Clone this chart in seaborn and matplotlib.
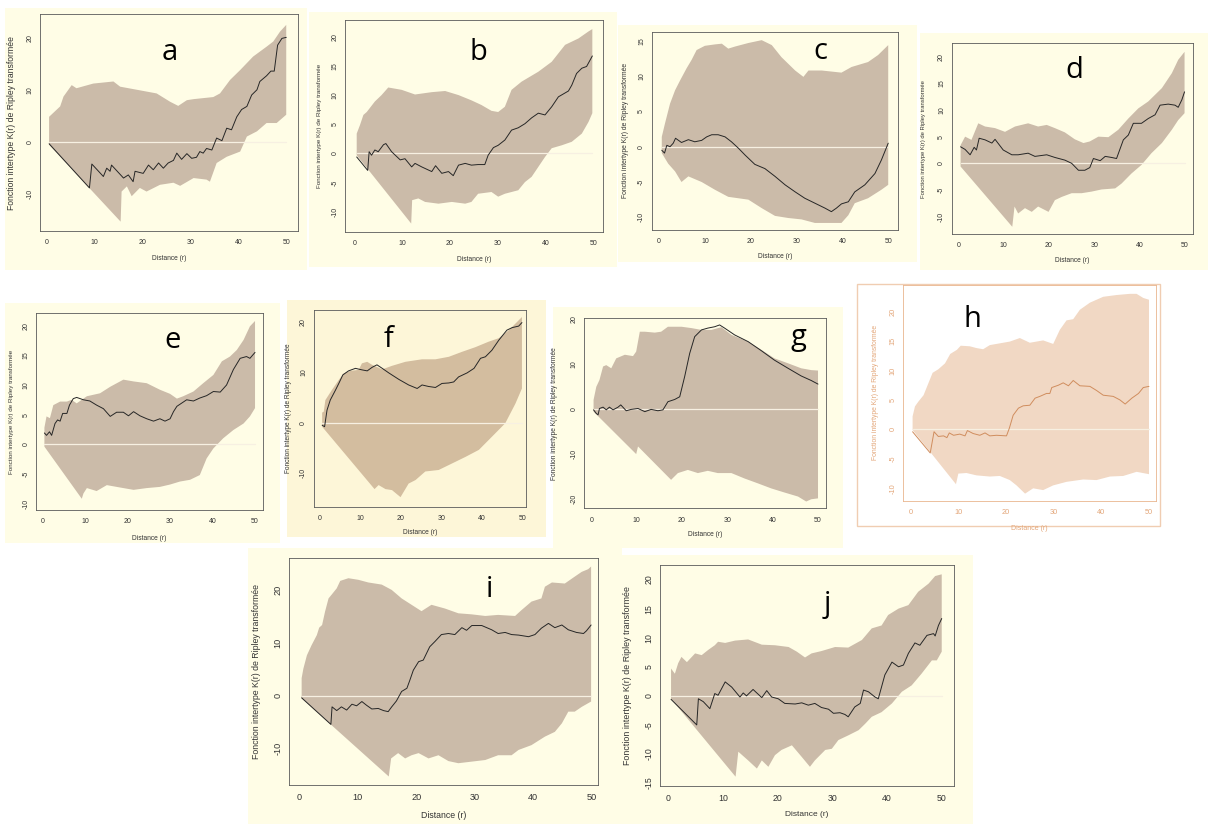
import matplotlib
matplotlib.use("Agg")
import matplotlib.pyplot as plt
import seaborn as sns
from matplotlib.patches import Rectangle

# ---------------- data ----------------
# panel a
a_line_x = [0.5, 8.9, 9.4, 11.8, 12.5, 13.2, 13.5, 16, 17, 18, 18.4, 20.1, 21.2, 22.2, 23.3, 24.3, 25.3, 26.4, 27.1, 28.1, 29.2, 30.2, 31.2, 31.9, 32.6, 33.3, 34.4, 35.4, 36.5, 37.5, 38.5, 39.6, 40.6, 41.7, 42.7, 43.8, 44.4, 45.8, 46.7, 47.4, 48.1, 49, 49.9]
a_line_y = [-0.3, -8.8, -4.2, -6.6, -5, -5.6, -4.4, -6.9, -6.3, -7.6, -5.6, -6, -4.4, -5.3, -4, -5, -4, -3.5, -2.1, -3.3, -2.2, -3.1, -2.9, -1.8, -2.1, -1.2, -1.5, 0.8, 0.3, 2.7, 2.4, 4.9, 6.3, 6.9, 9.1, 10.1, 11.7, 12.8, 13.7, 13.7, 18.7, 20, 20.2]
a_hi_x = [0.5, 2.8, 3.5, 5.2, 6.2, 9.7, 13.9, 15.3, 19.4, 22.9, 25.7, 27.4, 29.2, 30.6, 34.7, 36.1, 38.2, 40.3, 43, 45.8, 47.2, 48.6, 49.9]
a_hi_y = [4.9, 6.9, 8.8, 11, 10.4, 11.3, 11.7, 10.7, 10, 9.4, 7.8, 7, 8.1, 8.3, 8.7, 9.4, 12, 13.9, 16.5, 18.4, 19.4, 21.3, 22.6]
a_lo_x = [0.5, 15.4, 15.6, 16.7, 17.7, 19.4, 20.8, 23.6, 26.4, 27.8, 30.6, 33.3, 34, 35.4, 37.5, 40.3, 41.7, 43.8, 45.8, 47.9, 49.9]
a_lo_y = [-0.5, -15.3, -9.5, -8.5, -10.4, -8.8, -9.5, -8.2, -7.8, -8.4, -6.9, -7.2, -7.6, -4, -2.8, -1.8, 1.1, 2.1, 3.7, 3.7, 5.3]

# panel b
b_line_x = [0.5, 2.8, 3.1, 3.6, 4.3, 5, 6.1, 6.6, 7.8, 9.6, 10.6, 12, 12.7, 14.1, 16.2, 17, 18.3, 19.7, 20.7, 21.8, 23.2, 24.5, 25.9, 27.3, 28, 29.1, 30.1, 31.5, 32.9, 34.3, 35.7, 37.1, 38.5, 39.9, 41.3, 42.7, 44.8, 45.5, 46.5, 47.6, 48.6, 49.8]
b_line_y = [-0.6, -2.9, 0.3, -0.3, 0.6, 0.3, 1.5, 1.7, 0.3, -1.1, -0.9, -2.3, -1.7, -2.3, -3.1, -2.1, -3.4, -3.1, -3.8, -2, -1.7, -2, -1.9, -1.9, -0.3, 1, 1.4, 2.3, 4, 4.4, 5.1, 6.1, 6.9, 6.6, 8, 9.7, 10.7, 11.7, 13.7, 14.6, 14.9, 16.7]
b_hi_x = [0.5, 1.2, 1.9, 2.6, 4.3, 5.7, 7.1, 9.9, 12.7, 16.2, 19, 21.8, 24.5, 26.6, 28.7, 30.1, 31.5, 32.9, 35, 38.5, 41.3, 44.1, 46.9, 49, 49.8]
b_hi_y = [3.4, 4.9, 6.6, 7.1, 8.9, 10, 11.3, 10.9, 10.1, 10.5, 10.7, 10, 9.1, 8.3, 7.3, 7.1, 8, 10.9, 12.3, 14, 15.7, 18.6, 19.7, 20.9, 21.3]
b_lo_x = [0.5, 11.9, 12.1, 13.4, 14.8, 17.6, 20.4, 23.2, 24.5, 25.9, 28.7, 30.1, 31.5, 34.3, 35.7, 37.1, 38.5, 39.9, 41.3, 43.4, 45.5, 47.6, 49, 49.8]
b_lo_y = [-0.3, -12, -8, -7.7, -8.3, -8.6, -8.3, -8.6, -8.3, -6.9, -6.6, -7.4, -6.9, -6.3, -4.9, -4, -2.3, -0.6, 0.9, 1.4, 2, 3.4, 5.4, 6.9]

# panel c
c_line_x = [0.6, 1.2, 1.7, 2.4, 3.1, 3.6, 4.9, 6.4, 7.8, 9.3, 10.4, 11.5, 12.9, 14.4, 15.8, 17.3, 18.8, 20.9, 23.1, 25.3, 27.5, 29.7, 31.8, 34, 36.2, 37.6, 38.7, 39.8, 41.3, 42.7, 44.9, 47.1, 48.5, 50]
c_line_y = [-0.5, -0.9, 0.2, 0, 0.5, 1.2, 0.6, 1, 0.7, 0.9, 1.4, 1.7, 1.7, 1.4, 0.7, -0.2, -1.2, -2.5, -3.1, -4.2, -5.4, -6.4, -7.3, -8, -8.7, -9.2, -8.7, -8.1, -7.8, -6.4, -5.4, -3.8, -1.9, 0.5]
c_hi_x = [0.6, 1.3, 2.4, 3.5, 4.6, 6, 7.1, 8.2, 10, 12.2, 13.7, 15.1, 16.6, 19.5, 22.4, 24.6, 26.7, 29.7, 31.5, 32.6, 35.5, 39.8, 42, 45.6, 47.8, 50]
c_hi_y = [1.4, 3.3, 6.1, 8, 9.4, 11.1, 12.3, 13.7, 14.3, 14.5, 14.6, 13.9, 14.2, 14.7, 15.1, 14.4, 12.7, 10.8, 9.9, 10.8, 10.8, 10.5, 11.3, 12, 13, 14.4]
c_lo_x = [0.6, 2, 3.5, 4.9, 6.4, 9.3, 12.2, 15.1, 19.5, 22.4, 25.3, 28.2, 31.1, 34, 36.9, 39.8, 41.3, 42.7, 45.6, 48.5, 50]
c_lo_y = [-0.9, -2.4, -3.5, -5, -4.2, -5, -6.1, -7.1, -7.5, -8.7, -9.8, -10.1, -10.3, -10.8, -10.8, -10.8, -9.7, -8, -7.3, -6.1, -5.4]

# panel d
d_line_x = [0.5, 1.5, 2.6, 3.5, 4, 4.6, 5.9, 7.4, 8.1, 9.9, 11.8, 13.2, 15.4, 16.9, 19.5, 21.3, 23.5, 25, 26.5, 27.9, 29, 29.8, 31.3, 32.4, 33.8, 34.9, 36.4, 37.5, 38.6, 40.4, 41.9, 43.4, 44.5, 46.3, 47.8, 48.5, 49.3, 49.9]
d_line_y = [3.1, 2.6, 1.6, 3, 2.5, 4.7, 4.4, 3.8, 4.5, 2.5, 1.6, 1.6, 1.9, 1.3, 1.6, 1.1, 0.6, 0, -1.3, -1.3, -0.8, 0.9, 0.5, 1.3, 1.1, 0.9, 4.4, 5.3, 7.5, 7.5, 8.4, 9.1, 10.9, 11.1, 10.9, 10.5, 11.9, 13.4]
d_hi_x = [0.5, 1.5, 2.9, 4.4, 5.9, 8.1, 10.3, 12.5, 15.4, 17.6, 19.5, 21.3, 23.5, 25.7, 27.6, 29, 30.9, 33.1, 35.3, 37.5, 39.7, 41.9, 44.9, 47.1, 48.5, 49.9]
d_hi_y = [3.4, 5, 4.4, 7.5, 6.9, 6.6, 5.9, 6.9, 7.5, 6.9, 7.2, 6.6, 5.8, 4.5, 3.8, 4.1, 5, 4.9, 6.3, 8.4, 10.3, 11.6, 14.1, 16.9, 19.4, 20.9]
d_lo_x = [0.5, 11.9, 12.4, 13.2, 14.7, 16.2, 17.6, 19.9, 21.3, 22.8, 25, 27.2, 29.4, 31.6, 34.6, 36, 38.2, 40.4, 42.6, 44.9, 47.1, 48.5, 49.9]
d_lo_y = [-0.6, -11.9, -8.1, -9.4, -8.4, -9.1, -8.1, -9.1, -6.9, -6.3, -5.6, -5.6, -5.3, -4.9, -4.7, -3.8, -1.9, -0.3, 1.9, 3.8, 6.3, 8.1, 9.4]

# panel e
e_line_x = [0.4, 0.9, 1.6, 2.1, 2.9, 3.5, 4.1, 4.7, 5.7, 6.3, 7.2, 8, 9.6, 11.1, 12.7, 14.3, 15.9, 17.4, 19, 20.2, 21.4, 22.9, 24.5, 26.1, 27.6, 28.8, 30, 30.8, 31.6, 33.9, 35.5, 37, 38.6, 40.2, 41.8, 43.3, 44.9, 46.5, 48, 48.8, 50]
e_line_y = [1.9, 1.5, 2.1, 1.5, 3.5, 4.1, 3.9, 5.2, 5.2, 6.6, 7.7, 7.9, 7.5, 7.3, 6.6, 6, 4.7, 5.4, 5.4, 4.8, 5.5, 4.8, 4.3, 3.9, 4.3, 3.9, 4.3, 5.5, 6.4, 7.5, 7.3, 7.8, 8.2, 8.9, 8.8, 10, 12.6, 14.5, 14.8, 14.5, 15.5]
e_hi_x = [0.4, 0.9, 1.7, 2.5, 4.1, 5.7, 6.8, 8, 10.4, 13.5, 15.9, 19, 21.4, 24.5, 27.6, 30, 31.6, 33.1, 35.5, 37.8, 40.2, 42.2, 44.1, 45.7, 47.3, 48.8, 50]
e_hi_y = [2.8, 4.7, 4.4, 6.6, 7.2, 7.2, 7.5, 6.9, 8.1, 8.6, 9.7, 10.9, 10.6, 10.3, 9.2, 8.5, 7.7, 8.1, 8.9, 10.3, 11.7, 14, 14.8, 15.9, 17.6, 19.9, 20.8]
e_lo_x = [0.4, 9.2, 9.6, 10.4, 12.7, 15.1, 18.2, 21.4, 24.5, 27.6, 30, 32.3, 34.7, 37, 38.6, 40.2, 42.5, 44.9, 47.3, 48.8, 50]
e_lo_y = [-0.4, -9.2, -8.3, -7.4, -7.9, -6.9, -7.3, -7.7, -7.4, -7.2, -6.8, -6.3, -6, -5.2, -2.4, -0.7, 1, 2.4, 3.5, 4.7, 6.1]

# panel f
f_line_x = [0.6, 1.2, 1.8, 2.6, 3.9, 4.7, 5.7, 7.1, 8.8, 10.4, 11.7, 12.9, 14.1, 15.4, 17, 19.5, 21.9, 24, 25.2, 26.8, 28.5, 30.1, 31.8, 33, 34.2, 36.3, 38, 39.6, 40.8, 42.4, 44.1, 46.1, 47.4, 49, 49.8]
f_line_y = [-0.5, -0.8, 2.5, 4.5, 6.5, 7.8, 9.5, 10.3, 10.8, 10.5, 10.3, 11, 11.5, 10.8, 9.9, 8.6, 7.5, 6.8, 7.5, 7.2, 7, 7.8, 7.9, 8.1, 9.1, 9.9, 10.8, 12.8, 13.1, 14.4, 16.4, 18.4, 18.9, 19.2, 19.9]
f_hi_x = [0.6, 1, 1.4, 3, 4.7, 5.9, 7.6, 9.6, 10.4, 11.7, 12.9, 15.4, 17.8, 21.1, 25.2, 28.5, 31.8, 35.1, 38.3, 41.6, 44.1, 46.6, 48.2, 49.8]
f_hi_y = [2, 2.2, 4.5, 6.5, 8.5, 9.8, 10.3, 10.5, 11.8, 12.1, 11.5, 10.6, 11.3, 12.1, 12.6, 12.6, 13.1, 14.1, 15, 16.1, 16.8, 18.4, 19.7, 21]
f_lo_x = [0.6, 13.5, 14.5, 16.2, 17.8, 19.9, 21.9, 23.6, 26, 29.3, 32.6, 35.9, 39.2, 42.4, 45.7, 48.2, 49.8]
f_lo_y = [-0.8, -13.2, -12.4, -13.2, -13.4, -14.8, -12.1, -11.4, -9.7, -9.4, -8.1, -6.8, -5.4, -2.8, -0.1, 3.8, 6.8]

# panel g
g_line_x = [0.5, 1.1, 1.5, 1.8, 2.6, 3.3, 4, 4.8, 5.9, 6.5, 7.7, 8.8, 10.3, 11.8, 13.2, 14.7, 15.8, 16.9, 18.4, 19.5, 20.6, 21.7, 22.8, 24.3, 25.7, 27.2, 28.3, 29.4, 31.6, 34.6, 37.5, 40.4, 43.4, 46.3, 48.5, 50]
g_line_y = [-0.2, -1, -1.3, 0.1, 0.4, -0.2, 0.4, -0.2, 0.4, 0.9, -0.4, -0.1, 0.1, -0.6, -0.1, -0.4, -0.2, 1.6, 2.1, 2.7, 7.2, 12.3, 16, 17.5, 17.9, 18.2, 18.6, 17.9, 16.4, 14.9, 12.9, 10.8, 9, 7.3, 6.3, 5.5]
g_hi_x = [0.5, 1.1, 1.8, 2.6, 3.3, 4.4, 5.5, 7.4, 9.2, 9.9, 10.7, 11.8, 14, 15.4, 16.9, 19.9, 22.1, 24.3, 26.5, 28.7, 30.9, 34.6, 37.5, 40.4, 43.4, 46.3, 48.5, 50]
g_hi_y = [2, 4.9, 6.4, 9.4, 9.7, 9, 11.2, 12, 11.7, 12.7, 17.1, 17.1, 16.9, 17.1, 18.2, 18.2, 17.9, 17.5, 17.5, 18.1, 16.4, 14.9, 13.1, 11.2, 10.1, 9, 8.6, 8.5]
g_lo_x = [0.5, 9.9, 10.3, 17.6, 19.1, 21.3, 23.5, 25.7, 27.9, 30.9, 33.8, 36.8, 39.7, 42.6, 45.6, 47.4, 48.5, 50]
g_lo_y = [-0.6, -10, -8.3, -15.7, -14.2, -13.5, -14.2, -13.7, -14.2, -14.2, -15.4, -16.5, -17.6, -18.5, -19.4, -20.5, -20, -19.8]

# panel h
h_line_x = [0.4, 4.1, 4.9, 5.8, 6.9, 7.6, 8.1, 9, 10.3, 11.4, 11.9, 13.1, 14.5, 15.6, 16.6, 18, 20.1, 20.7, 21.5, 22.6, 23.6, 25, 26.1, 27.1, 28.5, 29.2, 29.6, 31, 32, 33.1, 34.1, 35.5, 37.6, 39, 40.4, 42.5, 43.9, 45, 46.4, 47.8, 48.8, 50]
h_line_y = [-0.4, -4, -0.4, -1.2, -1.1, -1.4, -0.6, -1, -0.8, -1.1, -0.2, -0.7, -1, -0.6, -1.1, -1, -1.1, 0.2, 2.4, 3.6, 4, 4.1, 5.3, 5.6, 6.1, 6.1, 7.1, 7.5, 7.9, 7.4, 8.3, 7.4, 7.3, 6.6, 5.8, 5.6, 5, 4.3, 5.3, 6.1, 7.1, 7.3]
h_hi_x = [0.4, 0.9, 1.6, 2.7, 3.7, 4.6, 5.8, 7.2, 8.3, 9.7, 10.5, 12.4, 13.8, 15.2, 16.6, 18.7, 20.8, 22.9, 25, 27.8, 29.9, 31.3, 32.7, 34.1, 35.5, 37.6, 40.4, 43.2, 46, 47.4, 48.8, 50]
h_hi_y = [2.2, 3.9, 4.7, 5.8, 7.8, 9.6, 10.2, 11.2, 12.8, 13.5, 14.2, 14.1, 13.8, 13.6, 14.3, 14.6, 14.9, 15.5, 14.7, 15.1, 14.5, 16.9, 18.5, 18.7, 20.3, 21.5, 22.5, 22.8, 23, 23, 22.3, 22]
h_lo_x = [0.4, 9.5, 10, 11.7, 13.8, 16.6, 18.7, 20.8, 22.2, 24, 25.7, 27.8, 29.9, 32.7, 36.2, 39, 41.8, 44.6, 47.4, 50]
h_lo_y = [-0.1, -9.3, -7.5, -7.4, -7.8, -8, -7.9, -8.6, -9.5, -10.9, -10, -10.3, -9.5, -8.9, -8.5, -8.6, -8, -7.9, -7.2, -7.6]

# panel i
i_line_x = [0.4, 5.4, 5.6, 6.4, 7.2, 8.1, 9, 9.8, 10.7, 11.5, 12.4, 13.5, 14.4, 15.2, 15.8, 16.6, 17.5, 18.4, 18.9, 19.5, 20.4, 21.2, 22.3, 23.2, 24.3, 25.5, 26.6, 27.8, 28.6, 29.5, 31.2, 32.9, 34, 35.2, 36.3, 37.5, 39.2, 40.3, 41.4, 42.6, 43.7, 44.9, 46, 47.4, 48.6, 49.1, 49.9]
i_line_y = [-0.4, -5.4, -2.1, -2.8, -2.1, -2.7, -1.6, -1.9, -1.1, -1.8, -2.5, -2.4, -2.8, -3, -2.1, -1, 0.8, 1.4, 2.9, 4.8, 6.4, 6.7, 9.2, 10.2, 11.5, 11.7, 11.5, 12.8, 12.3, 13.2, 13.2, 12.4, 11.7, 11.9, 11.5, 11.4, 11.1, 11.5, 12.7, 13.6, 12.8, 13.3, 12.4, 11.9, 11.7, 12.2, 13.3]
i_hi_x = [0.4, 0.7, 1.3, 2.1, 3, 3.4, 3.9, 4.4, 5, 5.6, 6.4, 7, 8.4, 10.1, 11.8, 14.1, 15.8, 17.5, 19.2, 20.9, 22.6, 24.9, 27.2, 29.5, 31.8, 34, 36.9, 38, 39.7, 41.4, 42, 43.2, 45.4, 47.1, 48.3, 49.4, 49.9]
i_hi_y = [3.3, 5.1, 7.6, 9.5, 11.4, 12.8, 13.3, 15.8, 18.3, 19.1, 20.2, 21.6, 22.1, 21.8, 21.3, 20.9, 19.9, 18.3, 17.1, 15.9, 17.1, 16.4, 15.5, 15.3, 15, 15.2, 15, 16.1, 17.7, 18.3, 20.5, 21.3, 21.1, 22.4, 23.3, 23.8, 24.3]
i_lo_x = [0.4, 15.3, 15.7, 16.9, 18.1, 19.2, 20.4, 22.1, 23.8, 25.5, 27.2, 29.5, 31.8, 34, 36.3, 37.5, 39.7, 42, 43.7, 44.9, 46, 47.1, 48.3, 49.9]
i_lo_y = [-0.5, -15.2, -11.8, -10.8, -11.8, -11.2, -10.8, -11.8, -11.2, -12.3, -12.7, -12.4, -12.1, -11.2, -11.2, -10.2, -9.3, -7.7, -6.8, -5.2, -3, -3, -2.1, -1.1]

# panel j
j_line_x = [0.5, 5.2, 5.5, 6.4, 7.6, 8.5, 9.1, 10.4, 11.6, 13.1, 13.7, 14.3, 15.5, 17.1, 18, 18.9, 20.1, 21.3, 23.2, 24.4, 25.6, 26.8, 28, 29.3, 30.2, 31.4, 32.3, 32.9, 34.1, 35.1, 35.7, 36.6, 37.8, 38.4, 39.6, 40.9, 42.1, 43, 43.9, 45.1, 46, 47.3, 48.5, 48.8, 49.4, 50]
j_line_y = [-0.6, -5, -0.5, -1, -2.2, 0.4, 0.1, 2.4, 1.5, -0.2, 0.5, 0, 1.1, -0.3, 0.9, -0.2, -0.5, -1.3, -1.4, -1.2, -1.6, -1.3, -2, -2.3, -3, -2.9, -3.2, -3.6, -1.9, -1.3, 1, 0.7, -0.2, -0.5, 3.6, 5.8, 5, 5.3, 7.3, 9.1, 8.7, 10.4, 10.7, 10.3, 12.1, 13.3]
j_hi_x = [0.5, 1.2, 1.8, 2.4, 3.4, 4.3, 4.9, 6.1, 7.3, 8.5, 9.1, 10.4, 12.2, 14.6, 17.1, 19.5, 22, 23.5, 25, 26.2, 28, 30.5, 32.9, 35.4, 37.2, 39, 40.2, 42.1, 43.9, 45.7, 47.6, 48.8, 50]
j_hi_y = [4.7, 3.8, 5.6, 6.7, 5.8, 6.7, 7.3, 7, 7.9, 8.7, 9.3, 9.1, 9.5, 9.7, 8.8, 8.7, 8.4, 7.6, 6.6, 7.3, 7.7, 8.4, 8.3, 9.6, 11.6, 12.1, 13.9, 15, 15.6, 17.9, 19.3, 20.6, 20.9]
j_lo_x = [0.5, 12.3, 12.8, 14.6, 16.2, 17.1, 18.3, 19.5, 20.7, 22.6, 24.4, 25.9, 26.8, 28.7, 29.9, 31.1, 32.9, 34.8, 36, 37.2, 39, 40.9, 42.7, 44.5, 46.3, 48.2, 49.1, 50]
j_lo_y = [-0.5, -13.9, -9.6, -11.1, -12.5, -11.1, -12.2, -10.2, -9.3, -8.5, -10.5, -12.2, -11.1, -9.3, -9.1, -7.6, -6.8, -5.9, -4.8, -3.6, -2.8, -1.3, 0.7, 1.8, 3.8, 6.1, 6.1, 7.6]

x_ticks = [0, 10, 20, 30, 40, 50]
letters = ["a", "b", "c", "d", "e", "f", "g", "h", "i", "j"]
y_label = "Fonction intertype K(r) de Ripley transformée"
x_label = "Distance (r)"

# ---------------- layout (pixels in a 1208x824 canvas) ----------------
W, H = 1208, 824
BG = "#fffde6"
ENV = "#cbbba9"
LINE = "#262626"
ZERO = "#f7f0e2"

layout = {
    "a": dict(bg=(5, 8, 307, 270), ax=(40, 14, 298, 231), xlim=(-1.4, 52.35), ylim=(-17.1, 24.7),
              yt=[-10, 0, 10, 20], let=(170, 60), fs=5.0, ylfs=6.2, yl=28, xl=27),
    "b": dict(bg=(309, 12, 617, 267), ax=(345, 20, 602.7, 231.7), xlim=(-1.95, 51.97), ylim=(-13.4, 22.86),
              yt=[-10, -5, 0, 5, 10, 15, 20], let=(478, 60), fs=5.0, ylfs=4.5, yl=26, xl=28),
    "c": dict(bg=(618, 25, 917, 262), ax=(651.7, 31.7, 898.3, 230), xlim=(-1.6, 52.2), ylim=(-11.8, 16.3),
              yt=[-10, -5, 0, 5, 10, 15], let=(820, 59), fs=5.0, ylfs=4.9, yl=26, xl=27),
    "d": dict(bg=(920, 33, 1208, 270), ax=(951.7, 43.3, 1193.3, 234), xlim=(-1.46, 51.83), ylim=(-13.25, 22.5),
              yt=[-10, -5, 0, 5, 10, 15, 20], let=(1074, 78), fs=5.0, ylfs=4.2, yl=28, xl=26),
    "e": dict(bg=(5, 303, 280, 543), ax=(36, 313.3, 263.3, 510), xlim=(-1.58, 51.95), ylim=(-11.1, 22.1),
              yt=[-10, -5, 0, 5, 10, 15, 20], let=(173, 348), fs=5.0, ylfs=4.5, yl=24, xl=28),
    "f": dict(bg=(287, 300, 546, 537), ax=(313.7, 310, 526, 506.7), xlim=(-1.48, 50.8), ylim=(-16.7, 22.4),
              yt=[-10, 0, 10, 20], let=(389, 347), fs=5.0, ylfs=4.7, yl=25, xl=26),
    "g": dict(bg=(553, 307, 843, 548), ax=(584, 318.3, 826.3, 508.3), xlim=(-1.61, 51.83), ylim=(-22.0, 20.07),
              yt=[-20, -10, 0, 10, 20], let=(798, 345), fs=5.0, ylfs=4.8, yl=29, xl=26),
    "h": dict(bg=(857, 284, 1160, 526), ax=(903.3, 285, 1156, 500.7), xlim=(-1.55, 51.47), ylim=(-12.1, 24.5),
              yt=[-10, -5, 0, 5, 10, 15, 20], let=(972, 327), fs=5.3, ylfs=4.9, yl=28, xl=28),
    "i": dict(bg=(248, 548, 622, 824), ax=(289.3, 557.7, 598.3, 785), xlim=(-1.71, 51.13), ylim=(-16.8, 25.96),
              yt=[-10, 0, 10, 20], let=(489, 597), fs=6.6, ylfs=6.3, yl=33, xl=30),
    "j": dict(bg=(622, 555, 973, 824), ax=(660, 565, 954.3, 786), xlim=(-1.52, 52.3), ylim=(-15.5, 22.5),
              yt=[-15, -10, -5, 0, 5, 10, 15, 20], let=(827, 612), fs=6.3, ylfs=6.4, yl=32, xl=29),
}

series = {
    "a": (a_line_x, a_line_y, a_hi_x, a_hi_y, a_lo_x, a_lo_y),
    "b": (b_line_x, b_line_y, b_hi_x, b_hi_y, b_lo_x, b_lo_y),
    "c": (c_line_x, c_line_y, c_hi_x, c_hi_y, c_lo_x, c_lo_y),
    "d": (d_line_x, d_line_y, d_hi_x, d_hi_y, d_lo_x, d_lo_y),
    "e": (e_line_x, e_line_y, e_hi_x, e_hi_y, e_lo_x, e_lo_y),
    "f": (f_line_x, f_line_y, f_hi_x, f_hi_y, f_lo_x, f_lo_y),
    "g": (g_line_x, g_line_y, g_hi_x, g_hi_y, g_lo_x, g_lo_y),
    "h": (h_line_x, h_line_y, h_hi_x, h_hi_y, h_lo_x, h_lo_y),
    "i": (i_line_x, i_line_y, i_hi_x, i_hi_y, i_lo_x, i_lo_y),
    "j": (j_line_x, j_line_y, j_hi_x, j_hi_y, j_lo_x, j_lo_y),
}

sns.set_style("white")
plt.rcParams["font.family"] = ["Liberation Sans", "DejaVu Sans"]
plt.rcParams["axes.unicode_minus"] = False

fig = plt.figure(figsize=(W / 100, H / 100), dpi=100)
fig.patch.set_facecolor("white")

for key in letters:
    L = layout[key]
    lx, ly, hx, hy, ox, oy = series[key]
    is_h = key == "h"
    env_c = "#f1d8c4" if is_h else ("#d3bd9f" if key == "f" else ENV)
    line_c = "#d08d5e" if is_h else LINE
    txt_c = "#e3a679" if is_h else "#333333"
    frame_c = "#e9b58e" if is_h else "#5a5a5a"
    bg_c = "white" if is_h else ("#fdf6d8" if key == "f" else BG)

    x0, y0, x1, y1 = L["bg"]
    fig.add_artist(Rectangle((x0 / W, 1 - y1 / H), (x1 - x0) / W, (y1 - y0) / H,
                             transform=fig.transFigure, facecolor=bg_c,
                             edgecolor="#f0cdb2" if is_h else "none", linewidth=1.0, zorder=-5))

    ax_l, ax_t, ax_r, ax_b = L["ax"]
    aw, ah = ax_r - ax_l, ax_b - ax_t
    ax = fig.add_axes([ax_l / W, 1 - ax_b / H, aw / W, ah / H])
    ax.set_facecolor("none")

    # envelope
    ax.fill(list(hx) + list(ox)[::-1], list(hy) + list(oy)[::-1],
            color=env_c, linewidth=0, zorder=1)
    # theoretical (zero) curve
    sns.lineplot(x=[ox[0], ox[-1]], y=[0, 0], ax=ax, color=ZERO, linewidth=0.9,
                 estimator=None, sort=False, zorder=2)
    # observed curve
    sns.lineplot(x=lx, y=ly, ax=ax, color=line_c, linewidth=0.7,
                 estimator=None, sort=False, zorder=3)

    ax.set_xlim(*L["xlim"])
    ax.set_ylim(*L["ylim"])
    ax.set_xticks(x_ticks)
    ax.set_yticks(L["yt"])
    fs = L["fs"]
    ax.set_xticklabels([str(t) for t in x_ticks])
    ax.set_yticklabels([str(t) for t in L["yt"]], rotation=90, va="center")
    ax.tick_params(axis="both", length=2.2, width=0.5, colors=frame_c, labelcolor=txt_c,
                   labelsize=fs, direction="out")
    ax.tick_params(axis="x", pad=3.8)
    ax.tick_params(axis="y", pad=2.6)
    for sp in ax.spines.values():
        sp.set_visible(True)
        sp.set_color(frame_c)
        sp.set_linewidth(0.6)

    ax.set_ylabel(y_label, fontsize=L["ylfs"], color=txt_c, va="center")
    ax.yaxis.set_label_coords(-L["yl"] / aw, 0.5)
    ax.set_xlabel(x_label, fontsize=fs * 0.95, color=txt_c, va="center")
    ax.xaxis.set_label_coords(0.5, -L["xl"] / ah)

    # panel letter
    tx, ty = L["let"]
    fig.text(tx / W, 1 - ty / H, key, fontsize=21, family=["Open Sans", "DejaVu Sans"],
             ha="center", va="baseline", color="black", zorder=10)

fig.savefig("out.png", dpi=100, facecolor="white")
